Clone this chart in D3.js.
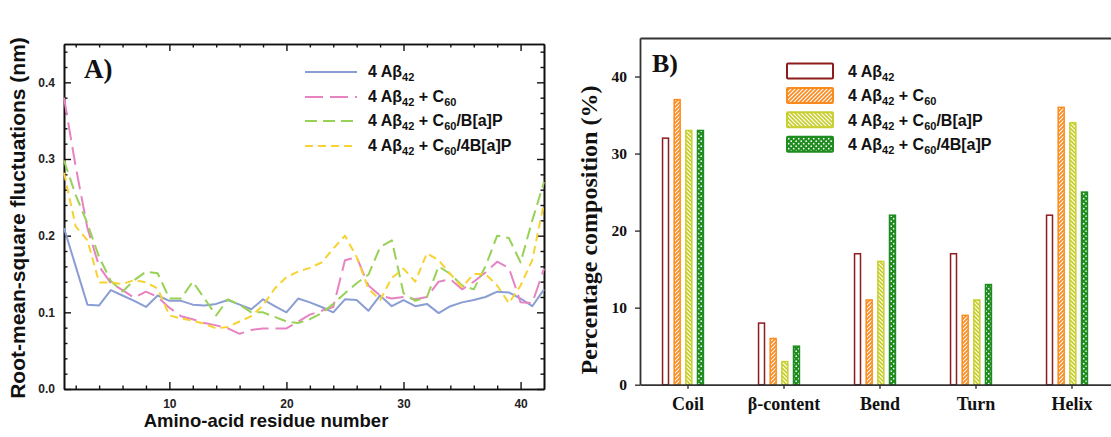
<!DOCTYPE html>
<html>
<head>
<meta charset="utf-8">
<script src="https://cdn.jsdelivr.net/npm/d3@7"></script>
<style>
  body { margin: 0; background: #fff; }
  svg { display: block; }
</style>
</head>
<body>
<svg id="chart" width="1111" height="437"></svg>
<script>
// ---- Panel A: per-residue RMSF (nm) ----
const residues = d3.range(1, 43);
const rmsfAb = [0.210,0.160,0.110,0.109,0.129,0.122,0.115,0.107,0.122,0.115,
                0.115,0.110,0.109,0.111,0.116,0.110,0.104,0.117,0.108,0.100,
                0.118,0.113,0.107,0.100,0.117,0.116,0.102,0.122,0.108,0.116,
                0.108,0.111,0.099,0.108,0.113,0.116,0.120,0.127,0.126,0.118,
                0.108,0.130];
const rmsfC60 = [0.380,0.290,0.210,0.160,0.138,0.129,0.119,0.127,0.120,0.106,
                 0.095,0.091,0.086,0.083,0.079,0.072,0.077,0.079,0.079,0.079,
                 0.088,0.097,0.102,0.107,0.168,0.172,0.135,0.122,0.118,0.120,
                 0.117,0.120,0.140,0.143,0.130,0.140,0.152,0.166,0.158,0.113,
                 0.112,0.157];
const rmsfC60BaP = [0.298,0.253,0.216,0.172,0.141,0.127,0.142,0.153,0.151,0.118,
                    0.118,0.140,0.118,0.096,0.117,0.110,0.100,0.100,0.094,0.088,
                    0.086,0.091,0.099,0.111,0.125,0.138,0.149,0.185,0.194,0.125,
                    0.115,0.120,0.160,0.150,0.135,0.130,0.160,0.200,0.197,0.165,
                    0.220,0.270];
const rmsfC604BaP = [0.282,0.212,0.194,0.139,0.139,0.137,0.142,0.139,0.131,0.096,
                     0.092,0.089,0.085,0.079,0.081,0.088,0.095,0.109,0.131,0.146,
                     0.153,0.158,0.165,0.183,0.200,0.172,0.131,0.116,0.145,0.157,
                     0.140,0.177,0.168,0.150,0.133,0.150,0.150,0.135,0.112,0.135,
                     0.168,0.243];
const rmsfYTicks = [0.0, 0.1, 0.2, 0.3, 0.4];
const residueTicks = [10, 20, 30, 40];

// ---- Panel B: secondary-structure composition (%) ----
const structures = ["Coil", "β-content", "Bend", "Turn", "Helix"];
const compAb       = [32, 8, 17, 17, 22];
const compC60      = [37, 6, 11, 9, 36];
const compC60BaP   = [33, 3, 16, 11, 34];
const compC604BaP  = [33, 5, 22, 13, 25];
const percentTicks = [0, 10, 20, 30, 40];

// Legend labels: [text, isSubscript] fragments
const systemLabels = [
  [["4 Aβ", 0], ["42", 1]],
  [["4 Aβ", 0], ["42", 1], [" + C", 0], ["60", 1]],
  [["4 Aβ", 0], ["42", 1], [" + C", 0], ["60", 1], ["/B[a]P", 0]],
  [["4 Aβ", 0], ["42", 1], [" + C", 0], ["60", 1], ["/4B[a]P", 0]]
];

const svg = d3.select("#chart");
const SANS = "Arial, 'Liberation Sans', Helvetica, sans-serif";
const SERIF = "'Times New Roman', 'Liberation Serif', serif";

function writeLabel(textSel, parts, mainSize, subSize) {
  parts.forEach(([t, sub], i) => {
    const prev = i > 0 ? parts[i - 1][1] : 0;
    const ts = textSel.append("tspan").text(t).attr("font-size", sub ? subSize : mainSize);
    if (sub && !prev) ts.attr("dy", 4);
    if (!sub && prev) ts.attr("dy", -4);
  });
}

// ================= Panel A =================
(function panelA() {
  const x = d3.scaleLinear().domain([1, 42]).range([64, 544]);
  const y = d3.scaleLinear().domain([0, 0.45]).range([389, 44]);
  const g = svg.append("g");

  const minorX = d3.range(2, 42, 2).filter(v => v % 10 !== 0);
  const minorY = d3.range(0, 0.451, 0.02).map(v => +v.toFixed(2)).filter(v => Math.round(v * 100) % 10 !== 0);

  const styleAxis = sel => {
    sel.selectAll("path.domain").attr("stroke", "#111").attr("stroke-width", 1.6);
    sel.selectAll(".tick line").attr("stroke", "#111").attr("stroke-width", 1.4);
    sel.selectAll(".tick text").attr("font-family", SANS).attr("font-weight", "bold")
      .attr("font-size", 12).attr("fill", "#222");
  };

  // bottom
  g.append("g").attr("transform", `translate(0,${y(0)})`)
    .call(d3.axisBottom(x).tickValues(residueTicks).tickSize(-7).tickSizeOuter(0).tickPadding(10).tickFormat(d3.format("d")))
    .call(styleAxis);
  g.append("g").attr("transform", `translate(0,${y(0)})`)
    .call(d3.axisBottom(x).tickValues(minorX).tickSize(-3.5).tickSizeOuter(0).tickFormat(""))
    .call(styleAxis);
  // top
  g.append("g").attr("transform", `translate(0,${y(0.45)})`)
    .call(d3.axisTop(x).tickValues(residueTicks).tickSize(-7).tickSizeOuter(0).tickFormat(""))
    .call(styleAxis);
  g.append("g").attr("transform", `translate(0,${y(0.45)})`)
    .call(d3.axisTop(x).tickValues(minorX).tickSize(-3.5).tickSizeOuter(0).tickFormat(""))
    .call(styleAxis);
  // left
  g.append("g").attr("transform", `translate(${x(1)},0)`)
    .call(d3.axisLeft(y).tickValues(rmsfYTicks).tickSize(-7).tickSizeOuter(0).tickPadding(9).tickFormat(d3.format(".1f")))
    .call(styleAxis);
  g.append("g").attr("transform", `translate(${x(1)},0)`)
    .call(d3.axisLeft(y).tickValues(minorY).tickSize(-3.5).tickSizeOuter(0).tickFormat(""))
    .call(styleAxis);
  // right
  g.append("g").attr("transform", `translate(${x(42)},0)`)
    .call(d3.axisRight(y).tickValues(rmsfYTicks).tickSize(-7).tickSizeOuter(0).tickFormat(""))
    .call(styleAxis);
  g.append("g").attr("transform", `translate(${x(42)},0)`)
    .call(d3.axisRight(y).tickValues(minorY).tickSize(-3.5).tickSizeOuter(0).tickFormat(""))
    .call(styleAxis);

  const series = [
    { vals: rmsfAb,       color: "#8a9ed4", dash: null },
    { vals: rmsfC60,      color: "#e883c2", dash: "18,7" },
    { vals: rmsfC60BaP,   color: "#97d155", dash: "12,6" },
    { vals: rmsfC604BaP,  color: "#f7d232", dash: "8,5" }
  ];
  const line = d3.line().x((d, i) => x(residues[i])).y(d => y(d));
  series.forEach(s => {
    g.append("path").datum(s.vals)
      .attr("fill", "none").attr("stroke", s.color).attr("stroke-width", 2)
      .attr("stroke-dasharray", s.dash)
      .attr("stroke-linejoin", "round")
      .attr("d", line);
  });

  // legend
  const legRows = [72, 97, 121, 146];
  series.forEach((s, i) => {
    g.append("line").attr("x1", 305).attr("x2", 357).attr("y1", legRows[i]).attr("y2", legRows[i])
      .attr("stroke", s.color).attr("stroke-width", 2).attr("stroke-dasharray", s.dash);
    const t = g.append("text").attr("x", 368).attr("y", legRows[i] + 5)
      .attr("font-family", SANS).attr("font-weight", "bold").attr("fill", "#111");
    writeLabel(t, systemLabels[i], 16, 11);
  });

  g.append("text").attr("x", 84).attr("y", 78).text("A)")
    .attr("font-family", SERIF).attr("font-weight", "bold").attr("font-size", 27).attr("fill", "#111");

  g.append("text").attr("x", 266).attr("y", 427).attr("text-anchor", "middle")
    .text("Amino-acid residue number")
    .attr("font-family", SANS).attr("font-weight", "bold").attr("font-size", 18.5).attr("fill", "#111");

  g.append("text").attr("transform", "translate(25,218) rotate(-90)").attr("text-anchor", "middle")
    .text("Root-mean-square fluctuations (nm)")
    .attr("font-family", SANS).attr("font-weight", "bold").attr("font-size", 21).attr("fill", "#111");
})();

// ================= Panel B =================
(function panelB() {
  const defs = svg.append("defs");
  const cOrange = "#fb8b1f", cOlive = "#c8cf2e", cGreen = "#1f8c1f", cMaroon = "#8e1c1c";

  const pO = defs.append("pattern").attr("id", "hatchOrange").attr("patternUnits", "userSpaceOnUse")
    .attr("width", 4).attr("height", 4);
  pO.append("rect").attr("width", 4).attr("height", 4).attr("fill", cOrange);
  pO.append("path").attr("d", "M-1,1 l2,-2 M0,4 l4,-4 M3,5 l2,-2").attr("stroke", "#fff").attr("stroke-width", 1.1);

  const pY = defs.append("pattern").attr("id", "hatchOlive").attr("patternUnits", "userSpaceOnUse")
    .attr("width", 4).attr("height", 4);
  pY.append("rect").attr("width", 4).attr("height", 4).attr("fill", cOlive);
  pY.append("path").attr("d", "M-1,3 l2,2 M0,0 l4,4 M3,-1 l2,2").attr("stroke", "#fff").attr("stroke-width", 1.1);

  const pG = defs.append("pattern").attr("id", "dotsGreen").attr("patternUnits", "userSpaceOnUse")
    .attr("width", 5).attr("height", 5);
  pG.append("rect").attr("width", 5).attr("height", 5).attr("fill", cGreen);
  pG.append("circle").attr("cx", 1.2).attr("cy", 1.2).attr("r", 0.85).attr("fill", "#fff");
  pG.append("circle").attr("cx", 3.7).attr("cy", 3.7).attr("r", 0.85).attr("fill", "#fff");

  const groups = [
    { vals: compAb,      fill: "#fff",                 stroke: cMaroon },
    { vals: compC60,     fill: "url(#hatchOrange)",    stroke: cOrange },
    { vals: compC60BaP,  fill: "url(#hatchOlive)",     stroke: cOlive },
    { vals: compC604BaP, fill: "url(#dotsGreen)",      stroke: cGreen }
  ];

  const x = d3.scaleBand().domain(structures).range([640, 1120]).padding(0);
  const xs = d3.scaleBand().domain(d3.range(groups.length)).range([0, 42.4]).paddingInner(0.36);
  const y = d3.scaleLinear().domain([0, 45]).range([384.7, 38]);
  const g = svg.append("g");

  // bars
  groups.forEach((s, si) => {
    g.selectAll(null).data(s.vals).enter().append("rect")
      .attr("x", (d, i) => x(structures[i]) + x.bandwidth() / 2 - 26.2 + xs(si) + 0.75)
      .attr("y", d => y(d))
      .attr("width", xs.bandwidth() - 1.5)
      .attr("height", d => y(0) - y(d))
      .attr("fill", s.fill).attr("stroke", s.stroke).attr("stroke-width", 1.5);
  });

  const styleAxis = sel => {
    sel.selectAll("path.domain").attr("stroke", "#333").attr("stroke-width", 1.8);
    sel.selectAll(".tick line").attr("stroke", "#333").attr("stroke-width", 1.4);
    sel.selectAll(".tick text").attr("font-family", SERIF).attr("font-weight", "bold").attr("fill", "#111");
  };

  g.append("g").attr("transform", `translate(0,${y(0)})`)
    .call(d3.axisBottom(x).tickSize(4).tickSizeOuter(0).tickPadding(9))
    .call(styleAxis)
    .selectAll(".tick text").attr("font-size", 18);
  g.append("g").attr("transform", `translate(0,${y(45)})`)
    .call(d3.axisTop(x).tickValues([]).tickSizeOuter(0))
    .call(styleAxis);
  g.append("g").attr("transform", `translate(640,0)`)
    .call(d3.axisLeft(y).tickValues(percentTicks).tickSize(5).tickSizeOuter(0).tickPadding(8).tickFormat(d3.format("d")))
    .call(styleAxis)
    .selectAll(".tick text").attr("font-size", 15.5);

  // legend
  groups.forEach((s, i) => {
    const cy = 71 + i * 24.4;
    g.append("rect").attr("x", 787).attr("y", cy - 7.5).attr("width", 46).attr("height", 15)
      .attr("rx", 1).attr("fill", s.fill).attr("stroke", s.stroke).attr("stroke-width", 2);
    const t = g.append("text").attr("x", 848).attr("y", cy + 6)
      .attr("font-family", SANS).attr("font-weight", "bold").attr("fill", "#111");
    writeLabel(t, systemLabels[i], 16, 11);
  });

  g.append("text").attr("x", 652).attr("y", 72).text("B)")
    .attr("font-family", SERIF).attr("font-weight", "bold").attr("font-size", 26).attr("fill", "#111");

  g.append("text").attr("transform", "translate(597,230) rotate(-90)").attr("text-anchor", "middle")
    .text("Percentage composition (%)")
    .attr("font-family", SERIF).attr("font-weight", "bold").attr("font-size", 24).attr("fill", "#111");
})();
</script>
</body>
</html>
